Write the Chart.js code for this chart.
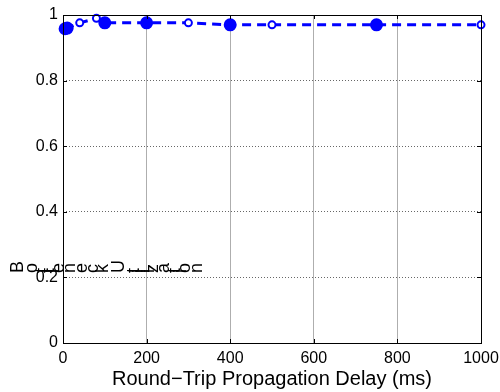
<!DOCTYPE html>
<html>
<head>
<meta charset="utf-8">
<script src="https://cdn.jsdelivr.net/npm/chart.js@4"></script>
<style>
  html, body { margin: 0; padding: 0; background: #fff; }
  #wrap { width: 500px; height: 392px; position: relative; }
</style>
</head>
<body>
<div id="wrap"><canvas id="chart" width="500" height="392"></canvas></div>
<script>
// dados
const delays = [5, 10, 40, 80, 100, 200, 300, 400, 500, 750, 1000];
const utilization = [0.958, 0.96, 0.976, 0.99, 0.976, 0.976, 0.976, 0.97, 0.97, 0.97, 0.97];
const xTicks = [0, 200, 400, 600, 800, 1000];
const yTicks = [0, 0.2, 0.4, 0.6, 0.8, 1];
const xTitle = 'Round\u2212Trip Propagation Delay (ms)';
const yTitle = 'Bottleneck Utilization';

const FONT = '"Liberation Sans", Arial, sans-serif';

// caixa, ticks para dentro e o rótulo do eixo y (letras giradas uma a uma)
const boxPlugin = {
  id: 'box',
  afterDraw(chart) {
    const ctx = chart.ctx;
    const a = chart.chartArea;
    const xs = chart.scales.x, ys = chart.scales.y;
    ctx.save();
    ctx.strokeStyle = '#000';
    ctx.lineWidth = 1;
    ctx.strokeRect(Math.round(a.left) + 0.5, Math.round(a.top) + 0.5,
      Math.round(a.right - a.left), Math.round(a.bottom - a.top));
    ctx.beginPath();
    xTicks.forEach(v => {
      const px = Math.round(xs.getPixelForValue(v)) + 0.5;
      ctx.moveTo(px, a.bottom); ctx.lineTo(px, a.bottom - 4);
      ctx.moveTo(px, a.top); ctx.lineTo(px, a.top + 4);
    });
    yTicks.forEach(v => {
      const py = Math.round(ys.getPixelForValue(v)) + 0.5;
      ctx.moveTo(a.left, py); ctx.lineTo(a.left + 4, py);
      ctx.moveTo(a.right, py); ctx.lineTo(a.right - 4, py);
    });
    ctx.stroke();

    // rótulo do eixo y, como saiu na figura original
    ctx.font = '18px ' + FONT;
    ctx.fillStyle = '#000';
    ctx.textBaseline = 'alphabetic';
    ctx.textAlign = 'left';
    const total = ctx.measureText(yTitle).width;
    const span = 190;
    let x = 10;
    for (const ch of yTitle) {
      const w = ctx.measureText(ch).width * span / total;
      ctx.save();
      ctx.translate(x + 13, 273);
      ctx.rotate(-Math.PI / 2);
      ctx.fillText(ch, 0, 0);
      ctx.restore();
      x += w;
    }
    ctx.restore();
  }
};

const config = {
  type: 'line',
  data: {
    datasets: [{
      data: delays.map((d, i) => ({ x: d, y: utilization[i] })),
      borderColor: '#0000ff',
      borderWidth: 3,
      borderDash: [9, 6],
      pointRadius: [5.5, 5.5, 3.5, 3.5, 5.5, 5.5, 3.5, 5.5, 3.5, 5.5, 3.5],
      pointBorderWidth: 2,
      pointBorderColor: '#0000ff',
      pointBackgroundColor: ['#0000ff', '#0000ff', '#fff', '#fff', '#0000ff', '#0000ff', '#fff', '#0000ff', '#fff', '#0000ff', '#fff'],
      tension: 0,
      clip: false
    }]
  },
  options: {
    responsive: false,
    animation: false,
    layout: { padding: { top: 15, right: 19, left: 0, bottom: 0 } },
    plugins: { legend: { display: false }, tooltip: { enabled: false } },
    scales: {
      x: {
        type: 'linear',
        min: 0, max: 1000,
        afterBuildTicks: s => { s.ticks = xTicks.map(v => ({ value: v })); },
        afterFit: s => { s.height = 49; s.paddingLeft = 0; s.paddingRight = 0; },
        grid: { color: '#999', lineWidth: 0.8, drawTicks: false },
        border: { display: false },
        ticks: { color: '#000', font: { family: FONT, size: 16 }, padding: 6, maxRotation: 0, callback: v => String(v) },
        title: { display: true, text: xTitle, color: '#000', font: { family: FONT, size: 20 }, padding: { top: 0, bottom: 1 } }
      },
      y: {
        type: 'linear',
        min: 0, max: 1,
        afterBuildTicks: s => { s.ticks = yTicks.map(v => ({ value: v })); },
        afterFit: s => { s.width = 63; s.paddingTop = 0; s.paddingBottom = 0; },
        grid: { color: '#000', lineWidth: 0.6, drawTicks: false },
        border: { display: false, dash: [1, 2] },
        ticks: { color: '#000', font: { family: FONT, size: 16 }, padding: 5, callback: v => String(v) }
      }
    }
  },
  plugins: [boxPlugin]
};

const myChart = new Chart(document.getElementById('chart'), config);
</script>
</body>
</html>
